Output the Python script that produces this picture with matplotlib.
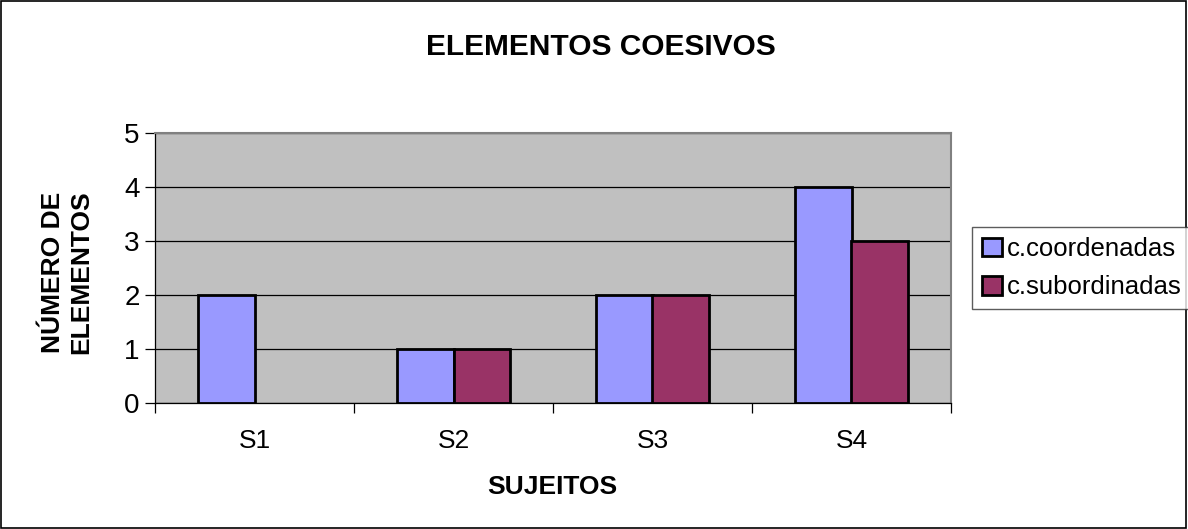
import matplotlib.pyplot as plt
import numpy as np

plt.rcParams['font.family'] = ['Liberation Sans', 'DejaVu Sans']

sujeitos = ['S1', 'S2', 'S3', 'S4']
coordenadas = [2, 1, 2, 4]
subordinadas = [0, 1, 2, 3]
series_names = ['c.coordenadas', 'c.subordinadas']
yticks = [0, 1, 2, 3, 4, 5]

fig = plt.figure(figsize=(11.88, 5.29), dpi=100)
fig.patch.set_facecolor('white')
# outer chart border
fig.add_artist(plt.Rectangle((0.001, 0.002), 0.997, 0.996, transform=fig.transFigure,
                             fill=False, edgecolor='black', linewidth=1.2))

ax = fig.add_axes([155 / 1188, 1 - 403 / 529, (951 - 155) / 1188, (403 - 133) / 529])
ax.set_facecolor('#C0C0C0')

x = np.arange(len(sujeitos))
w = 0.286
ax.bar(x - w / 2, coordenadas, w, color='#9999FF', edgecolor='black', linewidth=2.0,
       label=series_names[0], zorder=3)
sub_vals = np.array(subordinadas, dtype=float)
ax.bar(x + w / 2, np.where(sub_vals > 0, sub_vals, np.nan), w, color='#993366',
       edgecolor='black', linewidth=2.0, label=series_names[1], zorder=3)

ax.set_xlim(-0.5, len(sujeitos) - 0.5)
ax.set_ylim(0, 5)
ax.set_yticks(yticks)
ax.set_yticklabels([str(v) for v in yticks], fontsize=20)
ax.yaxis.grid(True, color='black', linewidth=0.9, zorder=1)
ax.set_axisbelow(True)

# category labels centered, tick marks on the boundaries
ax.set_xticks(np.arange(-0.5, len(sujeitos), 1.0))
ax.set_xticklabels([])
ax.set_xticks(x, minor=True)
ax.set_xticklabels(sujeitos, minor=True, fontsize=19)
ax.tick_params(axis='x', which='minor', length=0, pad=19)
ax.tick_params(axis='x', which='major', length=7, direction='out', width=0.9)
ax.tick_params(axis='y', length=7, direction='out', width=0.9, pad=4)

for side in ['top', 'right']:
    ax.spines[side].set_color('#808080')
    ax.spines[side].set_linewidth(1.5)
for side in ['left', 'bottom']:
    ax.spines[side].set_color('black')
    ax.spines[side].set_linewidth(0.9)

fig.text(601 / 1188, 1 - 47 / 529, 'ELEMENTOS COESIVOS', ha='center', va='center',
         fontsize=21.5, fontweight='bold')
fig.text(552 / 1188, 1 - 487 / 529, 'SUJEITOS', ha='center', va='center',
         fontsize=19, fontweight='bold')
fig.text(67 / 1188, 1 - 272 / 529, 'NÚMERO DE\nELEMENTOS', ha='center', va='center',
         rotation=90, fontsize=19, fontweight='bold', linespacing=1.2)

leg = fig.legend(loc='center left', bbox_to_anchor=(972 / 1188, 1 - 268 / 529),
                 fontsize=18.5, frameon=True, fancybox=False, edgecolor='#333333',
                 handlelength=0.75, handleheight=0.75, handletextpad=0.2,
                 borderpad=0.4, labelspacing=0.55, borderaxespad=0)
leg.get_frame().set_linewidth(1.0)

fig.savefig('out.png', dpi=100, facecolor='white')
